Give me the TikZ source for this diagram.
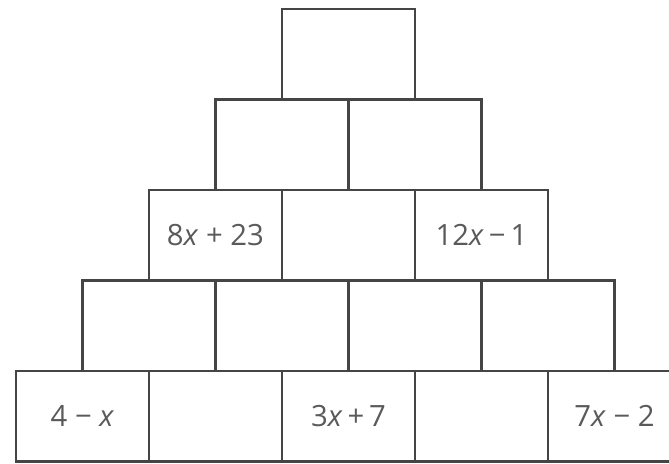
\documentclass[tikz,border=0pt]{standalone}
\usepackage{fontspec}
\setsansfont{Open Sans}
\usetikzlibrary{positioning}
\definecolor{edgegray}{HTML}{454545}
\definecolor{textgray}{HTML}{5A5A5A}
\newcommand{\mminus}{\char"2212}

\begin{document}
\begin{tikzpicture}[
        x=0.03cm, y=-0.03cm,
        brick/.style={rectangle, draw=edgegray, line width=2.2pt,
            minimum width=3.99cm, minimum height=2.715cm, inner sep=0pt,
            text=textgray, font=\sffamily\fontsize{25}{28}\selectfont},
    ]
        \clip (0,0) rectangle (669,463);

        % bottom row
        \node[brick] (b1) at (82.5, 416.25) {4 \mminus{} \textit{x}};
        \node[brick] (b2) at (215.5, 416.25) {};
        \node[brick] (b3) at (348.5, 416.25) {3\textit{x}\,+\,7};
        \node[brick] (b4) at (481.5, 416.25) {};
        \node[brick] (b5) at (614.5, 416.25) {7\textit{x} \mminus{} 2};

        % second row
        \node[brick] (c1) at (149, 325.75) {};
        \node[brick] (c2) at (282, 325.75) {};
        \node[brick] (c3) at (415, 325.75) {};
        \node[brick] (c4) at (548, 325.75) {};

        % middle row
        \node[brick] (d1) at (215.5, 235.25) {8\textit{x} + 23};
        \node[brick] (d2) at (348.5, 235.25) {};
        \node[brick] (d3) at (481.5, 235.25) {12\textit{x}\,\mminus\,1};

        % fourth row
        \node[brick] (e1) at (282, 144.75) {};
        \node[brick] (e2) at (415, 144.75) {};

        % top
        \node[brick] (f1) at (348.5, 54.25) {};
    \end{tikzpicture}
\end{document}
